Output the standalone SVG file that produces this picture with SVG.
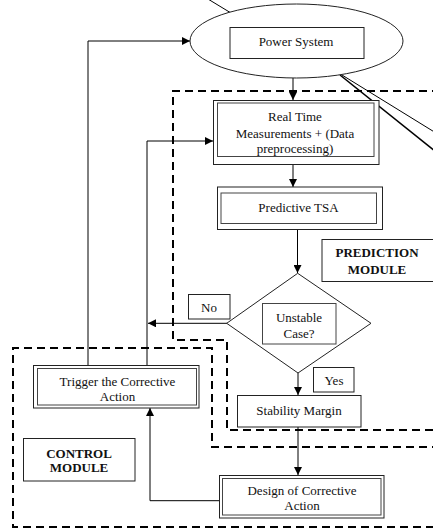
<svg xmlns="http://www.w3.org/2000/svg" width="433" height="528" viewBox="0 0 433 528">
<defs>
<marker id="ah" viewBox="0 0 10 10" refX="10" refY="5" markerWidth="8" markerHeight="8" markerUnits="userSpaceOnUse" orient="auto">
<path d="M0,0 L10,5 L0,10 z" fill="#000"/>
</marker>
<style>
text{font-family:'Liberation Serif','Times New Roman','DejaVu Serif',serif;font-size:13px;fill:#111;text-anchor:middle}
.b{font-weight:bold}
.bx{fill:#fff;stroke:#222;stroke-width:1}
.in{fill:none;stroke:#444;stroke-width:1}
.ln{fill:none;stroke:#000;stroke-width:1}
.dash{fill:none;stroke:#000;stroke-width:2;stroke-dasharray:8 5}
</style>
</defs>
<rect width="433" height="528" fill="#fff"/>

<g id="modules">
<polyline class="dash" points="440,91 173,91 173,340 227,340 227,430 440,430"/>
<polyline class="dash" points="440,447 212,447 212,348 13,348 13,527 440,527"/>
</g>

<g id="connectors">
<line class="ln" x1="203" y1="-4" x2="231" y2="13"/>
<line class="ln" x1="340" y1="75" x2="436" y2="152" style="stroke-width:1.6"/>
<line class="ln" x1="342" y1="75" x2="436" y2="133"/>
<line class="ln" x1="293" y1="78" x2="293" y2="100" marker-end="url(#ah)"/>
<line class="ln" x1="293" y1="164" x2="293" y2="187" marker-end="url(#ah)"/>
<line class="ln" x1="297.5" y1="229" x2="297.5" y2="273" marker-end="url(#ah)"/>
<line class="ln" x1="298" y1="373" x2="298" y2="395" marker-end="url(#ah)"/>
<line class="ln" x1="298" y1="427" x2="298" y2="475" marker-end="url(#ah)"/>
<line class="ln" x1="227" y1="323.3" x2="148" y2="323.3" marker-end="url(#ah)"/>
<polyline class="ln" points="88,365 88,41 190,41" marker-end="url(#ah)"/>
<polyline class="ln" points="147,365 147,141 213,141" marker-end="url(#ah)"/>
<polyline class="ln" points="219,500.7 150,500.7 150,408" marker-end="url(#ah)"/>
</g>

<g id="power-system">
<ellipse class="bx" cx="296.5" cy="41" rx="106.5" ry="37"/>
<rect class="bx" x="230" y="27.5" width="134" height="31"/>
<text x="296" y="46">Power System</text>
</g>

<g id="real-time">
<rect class="bx" x="213.5" y="100.5" width="165.5" height="64"/>
<rect class="in" x="217.5" y="103" width="156.5" height="53.5"/>
<text x="295" y="121">Real Time</text>
<text x="295" y="137.5">Measurements + (Data</text>
<text x="295" y="153">preprocessing)</text>
</g>

<g id="predictive-tsa">
<rect class="bx" x="217.5" y="187" width="165" height="42.5"/>
<rect class="in" x="221" y="193" width="155.5" height="30.5"/>
<text x="298.5" y="211.5">Predictive TSA</text>
</g>

<g id="prediction-label">
<rect class="bx" x="322" y="239.5" width="112" height="42"/>
<text class="b" x="377" y="256.5">PREDICTION</text>
<text class="b" x="377" y="273.5">MODULE</text>
</g>

<g id="unstable">
<polygon class="bx" points="297.7,273.3 371,323.3 298,373 226.7,323.3"/>
<rect class="in" x="262.5" y="303.5" width="73.5" height="40.5"/>
<text x="299" y="322">Unstable</text>
<text x="299" y="338">Case?</text>
</g>

<g id="no-label">
<rect class="bx" x="188.5" y="294.5" width="41.5" height="24.5"/>
<text x="209" y="311.5">No</text>
</g>

<g id="yes-label">
<rect class="bx" x="313.5" y="367.5" width="40.5" height="24.5"/>
<text x="334" y="385">Yes</text>
</g>

<g id="trigger">
<rect class="bx" x="33.5" y="365.5" width="165.5" height="42.5"/>
<rect class="in" x="37.5" y="368.5" width="159" height="36.5"/>
<text x="117.5" y="386">Trigger the Corrective</text>
<text x="117.5" y="401">Action</text>
</g>

<g id="stability-margin">
<rect class="bx" x="237.5" y="395.5" width="123.5" height="31.5"/>
<text x="299" y="414.5">Stability Margin</text>
</g>

<g id="control-label">
<rect class="bx" x="23.5" y="438.5" width="111.5" height="42.5"/>
<text class="b" x="79" y="458">CONTROL</text>
<text class="b" x="79" y="472">MODULE</text>
</g>

<g id="design">
<rect class="bx" x="219.5" y="475.5" width="164.5" height="42.5"/>
<rect class="in" x="222.5" y="478.5" width="158.5" height="36.5"/>
<text x="302" y="495">Design of Corrective</text>
<text x="302" y="510">Action</text>
</g>
</svg>
